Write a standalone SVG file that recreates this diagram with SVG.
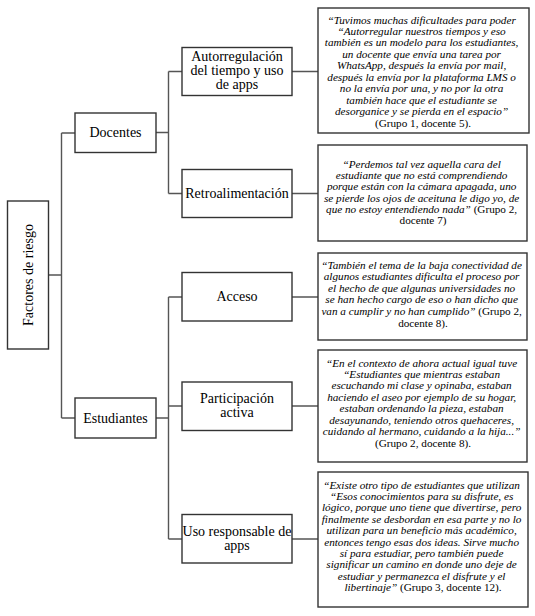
<svg xmlns="http://www.w3.org/2000/svg" width="535" height="616" viewBox="0 0 535 616">
<style>
.box{fill:#fff;stroke:#333;stroke-width:1.4}
.lbl{font-family:'Liberation Serif',serif;font-size:14px;fill:#000;text-anchor:middle}
.q{font-family:'Liberation Serif',serif;font-size:11.2px;font-style:italic;fill:#000;text-anchor:middle}
.r{font-style:normal}
.con{fill:none;stroke:#555;stroke-width:1.4}
</style>
<rect width="535" height="616" fill="#fff"/>
<g id="connectors">
<path class="con" d="M48 275H61.5M61.5 133V418M61.5 133H75M61.5 418H75"/>
<path class="con" d="M156 132.5H168.5M168.5 71.5V193.5M168.5 71.5H182M168.5 193.5H182"/>
<path class="con" d="M156 418H168.5M168.5 297V539M168.5 297H182M168.5 406H182M168.5 539H182"/>
<path class="con" d="M292 71.5H318M292 193.5H318M292 297H318M292 406H318M292 539H318"/>
</g>
<g id="root">
<rect class="box" x="7.5" y="201" width="41" height="148"/>
<text class="lbl" font-family="Liberation Serif, serif" transform="translate(32.5 275) rotate(-90)">Factores de riesgo</text>
</g>
<g id="docentes">
<rect class="box" x="75" y="113" width="81" height="39.5"/>
<text class="lbl" x="115.5" y="137">Docentes</text>
</g>
<g id="estudiantes">
<rect class="box" x="75" y="398" width="81" height="40"/>
<text class="lbl" x="115.5" y="422.7">Estudiantes</text>
</g>
<g id="autorregulacion">
<rect class="box" x="182" y="47.5" width="110" height="48"/>
<text class="lbl"><tspan x="237" y="61">Autorregulación</tspan><tspan x="237" y="75">del tiempo y uso</tspan><tspan x="237" y="88.9">de apps</tspan></text>
</g>
<g id="retroalimentacion">
<rect class="box" x="182" y="169.5" width="110" height="48"/>
<text class="lbl" x="237" y="198.3">Retroalimentación</text>
</g>
<g id="acceso">
<rect class="box" x="182" y="272.5" width="110" height="48.5"/>
<text class="lbl" x="237" y="301.3">Acceso</text>
</g>
<g id="participacion">
<rect class="box" x="182" y="382" width="110" height="48.5"/>
<text class="lbl"><tspan x="237" y="403">Participación</tspan><tspan x="237" y="417">activa</tspan></text>
</g>
<g id="uso">
<rect class="box" x="182" y="514.5" width="110" height="48.5"/>
<text class="lbl"><tspan x="237" y="536.3">Uso responsable de</tspan><tspan x="237" y="550.3">apps</tspan></text>
</g>
<g id="quote1">
<rect class="box" x="318" y="8" width="211" height="125"/>
<text class="q">
<tspan x="423" y="23.5">“Tuvimos muchas dificultades para poder</tspan>
<tspan x="423" y="34.9">“Autorregular nuestros tiempos y eso</tspan>
<tspan x="423" y="46.4">también es un modelo para los estudiantes,</tspan>
<tspan x="423" y="57.8">un docente que envía una tarea por</tspan>
<tspan x="423" y="69.3">WhatsApp, después la envía por mail,</tspan>
<tspan x="423" y="80.7">después la envía por la plataforma LMS o</tspan>
<tspan x="423" y="92.2">no la envía por una, y no por la otra</tspan>
<tspan x="423" y="103.6">también hace que el estudiante se</tspan>
<tspan x="423" y="115.1">desorganice y se pierda en el espacio”</tspan>
<tspan x="423" y="126.5" class="r">(Grupo 1, docente 5).</tspan>
</text>
</g>
<g id="quote2">
<rect class="box" x="318" y="145" width="209" height="96"/>
<text class="q">
<tspan x="423" y="168.2">“Perdemos tal vez aquella cara del</tspan>
<tspan x="423" y="179.3">estudiante que no está comprendiendo</tspan>
<tspan x="423" y="190.4">porque están con la cámara apagada,  uno</tspan>
<tspan x="423" y="201.5">se pierde los ojos de aceituna le digo yo, de</tspan>
<tspan x="423" y="212.6">que no estoy entendiendo nada” <tspan class="r">(Grupo 2,</tspan></tspan>
<tspan x="423" y="223.7" class="r">docente 7)</tspan>
</text>
</g>
<g id="quote3">
<rect class="box" x="318" y="253" width="209" height="87"/>
<text class="q">
<tspan x="423" y="268.5">“También el tema de la baja conectividad de</tspan>
<tspan x="423" y="280.1">algunos estudiantes dificulta el proceso por</tspan>
<tspan x="423" y="291.8">el hecho de que  algunas  universidades no</tspan>
<tspan x="423" y="303.4">se han hecho cargo de eso o han dicho que</tspan>
<tspan x="423" y="315.1">van a cumplir y no han cumplido” <tspan class="r">(Grupo 2,</tspan></tspan>
<tspan x="423" y="326.7" class="r">docente 8).</tspan>
</text>
</g>
<g id="quote4">
<rect class="box" x="318" y="350" width="209" height="112"/>
<text class="q">
<tspan x="423" y="366.5">“En el contexto de ahora actual igual tuve</tspan>
<tspan x="423" y="377.9">“Estudiantes que mientras estaban</tspan>
<tspan x="423" y="389.4">escuchando mi clase y opinaba, estaban</tspan>
<tspan x="423" y="400.8">haciendo el aseo por ejemplo de su hogar,</tspan>
<tspan x="423" y="412.2">estaban ordenando la pieza, estaban</tspan>
<tspan x="423" y="423.7">desayunando,  teniendo otros quehaceres,</tspan>
<tspan x="423" y="435.1">cuidando al hermano, cuidando a la hija...”</tspan>
<tspan x="423" y="446.5" class="r">(Grupo 2, docente 8).</tspan>
</text>
</g>
<g id="quote5">
<rect class="box" x="318" y="472" width="210" height="135"/>
<text class="q">
<tspan x="423" y="488.5">“Existe otro tipo de estudiantes que utilizan</tspan>
<tspan x="423" y="499.9">“Esos conocimientos para su disfrute, es</tspan>
<tspan x="423" y="511.3">lógico, porque uno tiene que divertirse, pero</tspan>
<tspan x="423" y="522.7">finalmente se desbordan en esa parte y no lo</tspan>
<tspan x="423" y="534.1">utilizan para un beneficio más académico,</tspan>
<tspan x="423" y="545.5">entonces tengo esas dos ideas. Sirve mucho</tspan>
<tspan x="423" y="556.9">sí para estudiar, pero también puede</tspan>
<tspan x="423" y="568.3">significar un camino en donde uno deje de</tspan>
<tspan x="423" y="579.7">estudiar y permanezca el disfrute y el</tspan>
<tspan x="423" y="591.1">libertinaje” <tspan class="r">(Grupo 3, docente 12).</tspan></tspan>
</text>
</g>
</svg>
